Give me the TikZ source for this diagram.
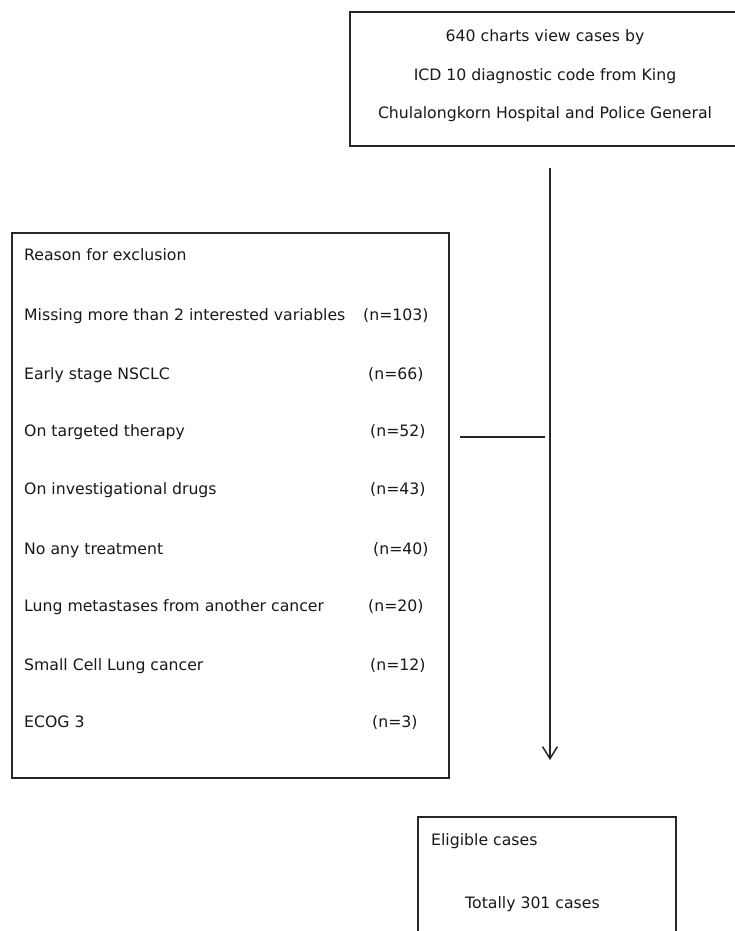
\documentclass[tikz,border=0pt]{standalone}
\usepackage{fontspec}
\setmainfont{DejaVu Sans}
\usetikzlibrary{arrows.meta}
\begin{document}
\begin{tikzpicture}[x=1pt,y=-1pt,
  box/.style={draw=black!85, line width=1.6pt, inner sep=0pt, anchor=north west},
  txt/.style={anchor=base west, inner sep=0pt, font=\fontsize{15.7}{18}\selectfont, text=black!90},
  ctxt/.style={anchor=base, inner sep=0pt, font=\fontsize{15.7}{18}\selectfont, text=black!90},
  conn/.style={draw=black!85, line width=1.6pt},
  arr/.style={conn, -{Straight Barb[length=12pt, width=15pt, line width=1.5pt]}}]
\useasboundingbox (0,0) rectangle (734,931);
\fill[white] (0,0) rectangle (734,931);

% boxes
\node[box, minimum width=392pt, minimum height=134pt] (top) at (349,11) {};
\node[box, minimum width=437pt, minimum height=545pt] (excl) at (11,232) {};
\node[box, minimum width=258pt, minimum height=130pt] (elig) at (417,816) {};

% top box text
\node[ctxt] (t1) at (545,42) {640 charts view cases by};
\node[ctxt] (t2) at (545,81) {ICD 10 diagnostic code from King};
\node[ctxt] (t3) at (545,119) {Chulalongkorn Hospital and Police General};

% exclusion box text
\node[txt] (r0) at (24,260) {Reason for exclusion};
\node[txt] (r1) at (24,320) {Missing more than 2 interested variables};
\node[txt] (n1) at (363,320) {(n=103)};
\node[txt] (r2) at (24,379) {Early stage NSCLC};
\node[txt] (n2) at (368,379) {(n=66)};
\node[txt] (r3) at (24,436) {On targeted therapy};
\node[txt] (n3) at (370,436) {(n=52)};
\node[txt] (r4) at (24,494) {On investigational drugs};
\node[txt] (n4) at (370,494) {(n=43)};
\node[txt] (r5) at (24,554) {No any treatment};
\node[txt] (n5) at (373,554) {(n=40)};
\node[txt] (r6) at (24,611) {Lung metastases from another cancer};
\node[txt] (n6) at (368,611) {(n=20)};
\node[txt] (r7) at (24,670) {Small Cell Lung cancer};
\node[txt] (n7) at (370,670) {(n=12)};
\node[txt] (r8) at (24,727) {ECOG 3};
\node[txt] (n8) at (372,727) {(n=3)};

% eligible box text
\node[txt] (e1) at (431,845) {Eligible cases};
\node[txt] (e2) at (465,908) {Totally 301 cases};

% connectors
\coordinate (vstart) at (550,168);
\coordinate (vend) at (550,760);
\coordinate (hleft) at (460,437);
\coordinate (hright) at (545,437);
\draw[arr] (vstart) -- (vend);
\draw[conn] (hleft) -- (hright);
\end{tikzpicture}
\end{document}
